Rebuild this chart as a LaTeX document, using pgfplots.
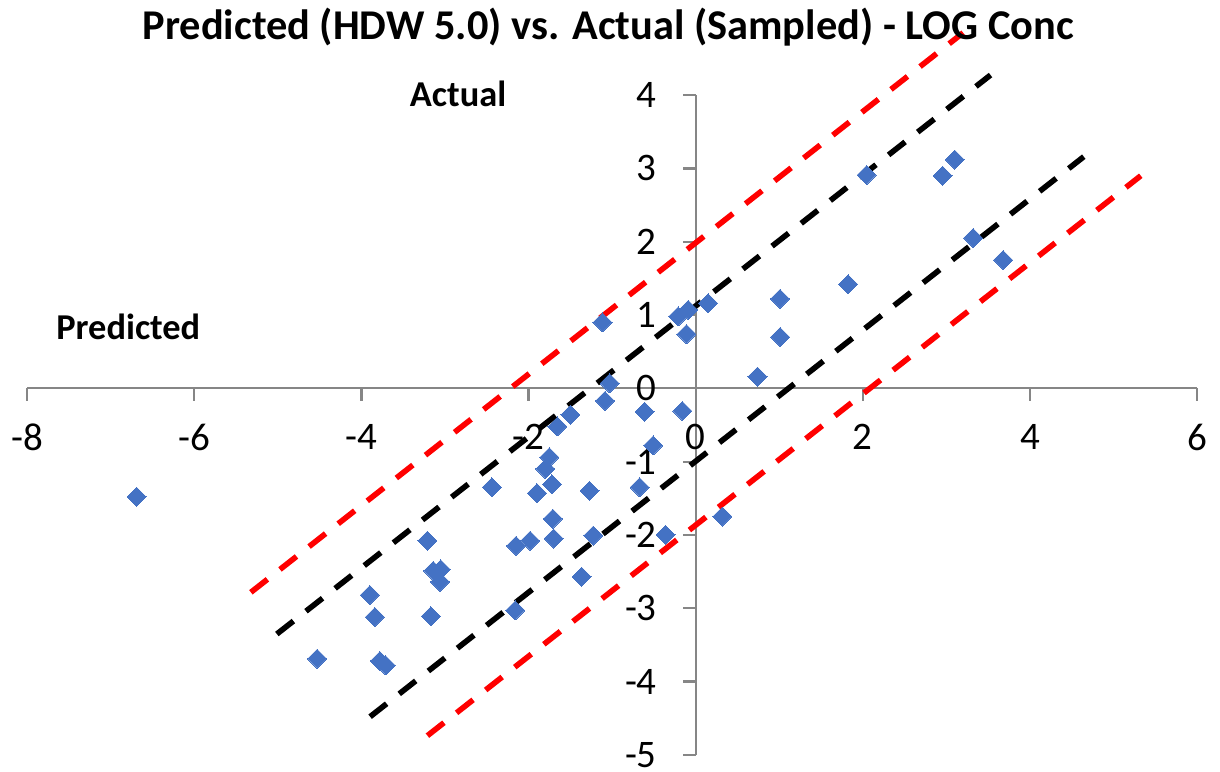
\documentclass[border=0pt]{standalone}
\usepackage{fontspec}
\setmainfont{Carlito}
\usepackage{pgfplots}
\pgfplotsset{compat=1.18}
\definecolor{xlblue}{HTML}{4472C4}
\definecolor{axgray}{HTML}{868686}
\begin{document}
\begin{tikzpicture}
\begin{axis}[
  scale only axis, width=584.9pt, height=329.85pt,
  at={(0pt,0pt)}, anchor=south west,
  xmin=-8, xmax=6, ymin=-5, ymax=4,
  axis lines=middle,
  axis line style={axgray, line width=1.1pt, -},
  xtick={-8,-6,-4,-2,0,2,4,6},
  ytick={-5,-4,-3,-2,-1,0,1,2,3,4},
  xticklabels={-8,-6,-4,-2,0,2,4,6},
  yticklabels={-5,-4,-3,-2,-1,0,1,2,3,4},
  hide obscured x ticks=false, hide obscured y ticks=false,
  tick align=outside, major tick length=6.25pt,
  tick style={axgray, line width=1.1pt},
  ticklabel style={font=\fontsize{19.5}{22}\selectfont},
  xticklabel style={anchor=north, inner sep=0pt, yshift=-11.5pt},
  yticklabel style={anchor=east, inner sep=0pt, xshift=-13pt},
  clip=false,
]
\addplot[only marks, mark=square*, mark size=3.36pt, mark options={rotate=45, fill=xlblue, draw=xlblue, line width=0pt}] coordinates {
(-6.69,-1.48) (-4.53,-3.69) (-3.90,-2.82) (-3.84,-3.12) (-3.78,-3.72) (-3.71,-3.78)
(-3.21,-2.08) (-3.17,-3.11) (-3.14,-2.49) (-3.05,-2.47) (-3.06,-2.64) (-2.44,-1.35)
(-2.15,-2.15) (-2.16,-3.03) (-1.98,-2.08) (-1.90,-1.43) (-1.80,-1.10) (-1.75,-0.94)
(-1.72,-1.31) (-1.71,-1.78) (-1.70,-2.05) (-1.655,-0.52) (-1.50,-0.36) (-1.365,-2.57)
(-1.27,-1.40) (-1.225,-2.01) (-1.115,0.90) (-1.085,-0.17) (-1.03,0.07) (-0.61,-0.32)
(-0.67,-1.35) (-0.51,-0.78) (-0.36,-2.00) (-0.21,0.98) (-0.16,-0.31) (-0.11,0.74)
(-0.09,1.07) (0.15,1.16) (0.32,-1.75) (0.74,0.16) (1.01,1.22) (1.01,0.70)
(1.825,1.42) (2.045,2.91) (2.955,2.90) (3.10,3.12) (3.32,2.05) (3.68,1.75)
};
\addplot[red, line width=2.8pt, dash pattern=on 10.5pt off 8pt] coordinates {(-5.323,-2.783) (3.201,4.851)};
\addplot[black, line width=2.8pt, dash pattern=on 10.5pt off 8pt] coordinates {(-5.012,-3.352) (3.529,4.274)};
\addplot[black, line width=2.8pt, dash pattern=on 10.5pt off 8pt] coordinates {(-3.896,-4.480) (4.645,3.160)};
\addplot[red, line width=2.8pt, dash pattern=on 10.5pt off 8pt] coordinates {(-3.210,-4.739) (5.327,2.900)};
\node[font=\bfseries\fontsize{18.2}{21}\selectfont] at (axis cs:-2.843,4.011) {Actual};
\node[font=\bfseries\fontsize{18.2}{21}\selectfont] at (axis cs:-6.79,0.837) {Predicted};
\end{axis}
\node[anchor=base, font=\bfseries\fontsize{21.2}{25}\selectfont] at (290.5pt,357.4pt) {Predicted (HDW 5.0) vs. Actual (Sampled) - LOG Conc};
\pgfresetboundingbox
\path[use as bounding box] (-13.6pt,-8.1pt) rectangle (596.4pt,377.4pt);
\end{tikzpicture}
\end{document}
